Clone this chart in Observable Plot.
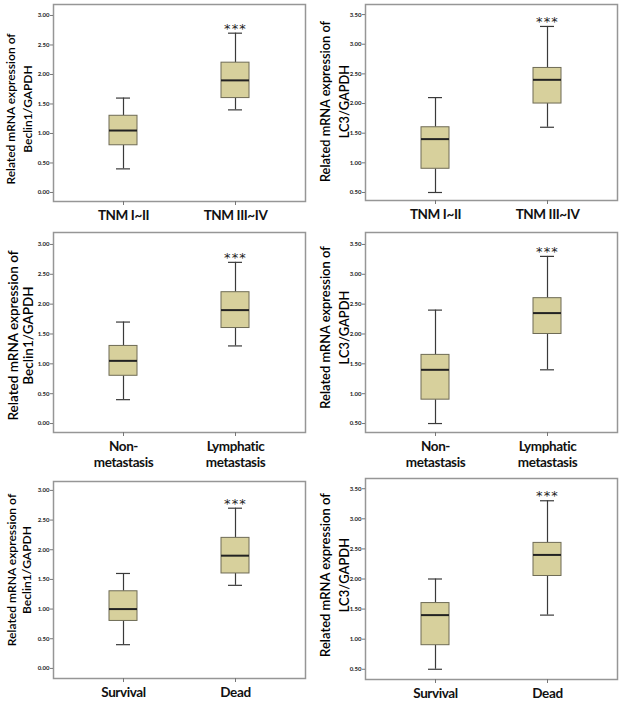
<!DOCTYPE html>
<html><head><meta charset="utf-8">
<script src="https://cdn.jsdelivr.net/npm/d3@7"></script>
<script src="https://cdn.jsdelivr.net/npm/@observablehq/plot@0.6"></script>
<style>
body{margin:0;background:#fff;}
#wrap{position:relative;width:625px;height:703px;overflow:hidden;background:#fff;}
.panel{position:absolute;}
</style></head><body><div id="wrap"></div>
<script>
const tnmGroups = ["TNM I~II", "TNM III~IV"];
const metaGroups = ["Non-\nmetastasis", "Lymphatic\nmetastasis"];
const survGroups = ["Survival", "Dead"];
// each: [lower whisker, Q1, median, Q3, upper whisker]
const beclin1TnmEarly = [0.4, 0.8, 1.05, 1.3, 1.6];
const beclin1TnmLate = [1.4, 1.6, 1.9, 2.2, 2.7];
const lc3TnmEarly = [0.5, 0.9, 1.4, 1.6, 2.1];
const lc3TnmLate = [1.6, 2.0, 2.4, 2.6, 3.3];
const beclin1NonMeta = [0.4, 0.8, 1.05, 1.3, 1.7];
const beclin1LymphMeta = [1.3, 1.6, 1.9, 2.2, 2.7];
const lc3NonMeta = [0.5, 0.9, 1.4, 1.65, 2.4];
const lc3LymphMeta = [1.4, 2.0, 2.35, 2.6, 3.3];
const beclin1Survival = [0.4, 0.8, 1.0, 1.3, 1.6];
const beclin1Dead = [1.4, 1.6, 1.9, 2.2, 2.7];
const lc3Survival = [0.5, 0.9, 1.4, 1.6, 2.0];
const lc3Dead = [1.4, 2.05, 2.4, 2.6, 3.3];
const beclin1Ticks = [0, 0.5, 1, 1.5, 2, 2.5, 3];
const lc3Ticks = [0.5, 1, 1.5, 2, 2.5, 3, 3.5];
const beclin1Title = "Related mRNA expression of\nBeclin1/GAPDH";
const lc3Title = "Related mRNA expression of\nLC3/GAPDH";
const significance = ["", "***"];

function panel(cfg) {
  const rows = cfg.groups.map((g, i) => {
    const s = cfg.stats[i];
    return {group: g, low: s[0], q1: s[1], med: s[2], q3: s[3], high: s[4], sig: significance[i]};
  });
  const whisk = {stroke: "#3a3a3a", strokeWidth: 1.2};
  const chart = Plot.plot({
    width: cfg.w, height: cfg.h,
    marginLeft: 53, marginRight: cfg.w - 53 - 252, marginTop: cfg.mt, marginBottom: cfg.mb,
    style: {fontFamily: "Lato, 'Open Sans', sans-serif", background: "transparent", overflow: "visible"},
    x: {type: "band", domain: cfg.groups, paddingInner: 0.75, paddingOuter: 0.5, label: null},
    y: {domain: cfg.ydomain, label: null},
    marks: [
      Plot.frame({stroke: "#969696", strokeWidth: 1.5}),
      Plot.axisY({ticks: cfg.ticks, tickFormat: d => d.toFixed(2), tickSize: 3, tickPadding: 1,
        fontSize: 6, fontWeight: "bold", fill: "#222", stroke: "#777", label: null}),
      Plot.axisX({tickSize: 4, tickPadding: 3, fontSize: 13.5, fontWeight: "bold", fill: "#111",
        stroke: "#777", label: null, lineHeight: 1.18}),
      Plot.ruleX(rows, {x: "group", y1: "low", y2: "q1", ...whisk}),
      Plot.ruleX(rows, {x: "group", y1: "q3", y2: "high", ...whisk}),
      Plot.tickY(rows, {x: "group", y: "low", insetLeft: 7, insetRight: 7, ...whisk}),
      Plot.tickY(rows, {x: "group", y: "high", insetLeft: 7, insetRight: 7, ...whisk}),
      Plot.barY(rows, {x: "group", y1: "q1", y2: "q3", fill: "#d7d09c", stroke: "#6e6b55", strokeWidth: 1}),
      Plot.tickY(rows, {x: "group", y: "med", stroke: "#222", strokeWidth: 2}),
      Plot.text(rows, {x: "group", y: "high", text: "sig", lineAnchor: "bottom", dy: -0.5, fontSize: 13,
        fontFamily: "'DejaVu Sans', sans-serif", fill: "#222"}),
      Plot.text([cfg.title], {frameAnchor: "left", textAnchor: "middle", lineAnchor: "middle",
        dx: cfg.tdx, dy: cfg.tdy, rotate: -90,
        fontSize: cfg.tfs, lineHeight: cfg.tlh, fontWeight: 600, fill: "#000"})
    ]
  });
  chart.classList.add("panel");
  chart.style.left = cfg.left + "px";
  chart.style.top = cfg.top + "px";
  chart.querySelectorAll("text").forEach(t => {
    if (t.textContent === "***") t.setAttribute("letter-spacing", "1.2");
  });
  chart.querySelectorAll("g[aria-label='x-axis tick label'] text").forEach(t => t.setAttribute("letter-spacing", "-0.4"));
  document.getElementById("wrap").appendChild(chart);
}

panel({left: 0, top: 0, w: 312, h: 228, mt: 4, mb: 27, ydomain: [-0.153, 3.186], ticks: beclin1Ticks,
  groups: tnmGroups, stats: [beclin1TnmEarly, beclin1TnmLate], title: beclin1Title,
  tdx: -35.5, tdy: 6, tfs: 12, tlh: 1.38});
panel({left: 312, top: 0, w: 313, h: 228, mt: 4, mb: 28, ydomain: [0.365, 3.67], ticks: lc3Ticks,
  groups: tnmGroups, stats: [lc3TnmEarly, lc3TnmLate], title: lc3Title,
  tdx: -32, tdy: -1, tfs: 12.8, tlh: 1.48});
panel({left: 0, top: 228, w: 312, h: 250, mt: 4, mb: 46, ydomain: [-0.15, 3.2], ticks: beclin1Ticks,
  groups: metaGroups, stats: [beclin1NonMeta, beclin1LymphMeta], title: beclin1Title,
  tdx: -33, tdy: 3, tfs: 13.5, tlh: 1.15});
panel({left: 312, top: 228, w: 313, h: 250, mt: 4, mb: 46, ydomain: [0.35, 3.7], ticks: lc3Ticks,
  groups: metaGroups, stats: [lc3NonMeta, lc3LymphMeta], title: lc3Title,
  tdx: -32, tdy: -5, tfs: 12.9, tlh: 1.47});
panel({left: 0, top: 470, w: 312, h: 233, mt: 11, mb: 25, ydomain: [-0.17, 3.15], ticks: beclin1Ticks,
  groups: survGroups, stats: [beclin1Survival, beclin1Dead], title: beclin1Title,
  tdx: -34.5, tdy: -10, tfs: 12.1, tlh: 1.2});
panel({left: 312, top: 470, w: 313, h: 233, mt: 8, mb: 24, ydomain: [0.33, 3.67], ticks: lc3Ticks,
  groups: survGroups, stats: [lc3Survival, lc3Dead], title: lc3Title,
  tdx: -32, tdy: -4, tfs: 13, tlh: 1.46});
</script></body></html>
